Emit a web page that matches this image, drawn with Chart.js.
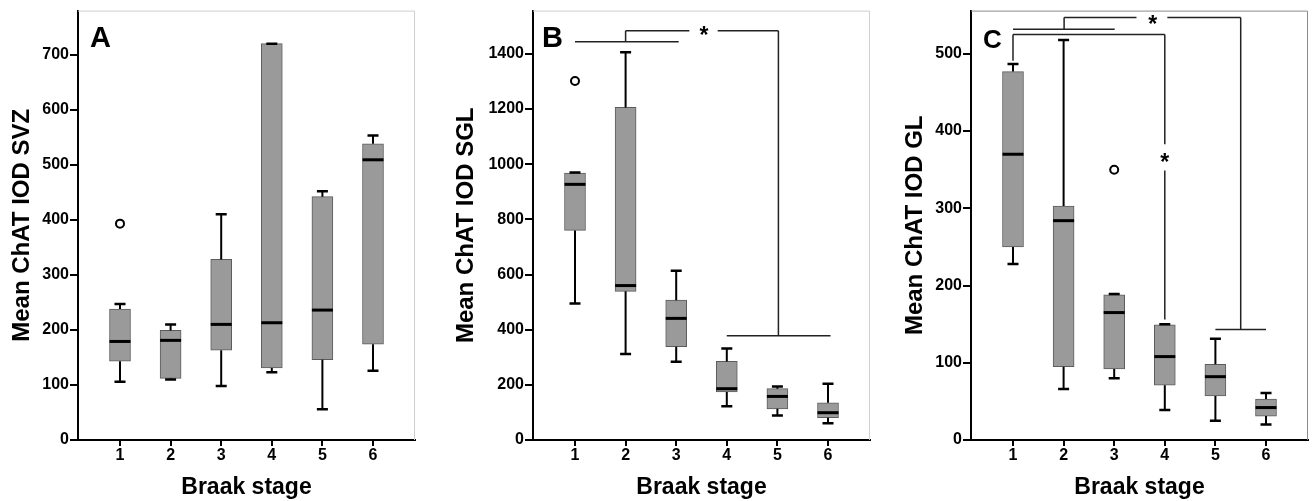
<!DOCTYPE html>
<html>
<head>
<meta charset="utf-8">
<script src="https://cdn.jsdelivr.net/npm/chart.js@4.4.1/dist/chart.umd.min.js"></script>
<style>
  html, body { margin: 0; padding: 0; background: #fff; }
  body { width: 1314px; height: 501px; position: relative; overflow: hidden; }
  canvas { position: absolute; top: 0; }
</style>
</head>
<body>
<canvas id="chartA" width="440" height="501" style="left:0px"></canvas>
<canvas id="chartB" width="436" height="501" style="left:440px"></canvas>
<canvas id="chartC" width="440" height="501" style="left:874px"></canvas>
<script>
const stages = [1, 2, 3, 4, 5, 6];

// A - SVZ
const svzMin = [106, 110, 98, 123, 56, 126];
const svzQ1 = [143, 112, 163, 131, 146, 174];
const svzMed = [179, 181, 210, 213, 236, 509];
const svzQ3 = [238, 199, 328, 720, 442, 538];
const svzMax = [247, 210, 410, 720, 452, 553];
const svzOutliers = [{ x: 1, y: 393 }];
const svzTicks = [0, 100, 200, 300, 400, 500, 600, 700];

// B - SGL
const sglMin = [495, 312, 284, 122, 89, 61];
const sglQ1 = [760, 539, 338, 174, 113, 81];
const sglMed = [927, 560, 441, 186, 158, 99];
const sglQ3 = [968, 1206, 507, 285, 186, 135];
const sglMax = [970, 1406, 614, 332, 194, 204];
const sglOutliers = [{ x: 1, y: 1302 }];
const sglTicks = [0, 200, 400, 600, 800, 1000, 1200, 1400];
// significance brackets [x1, y1, x2, y2] in data units
const sglBrackets = [
    [1, 1444, 3.05, 1444],
    [2, 1444, 2, 1484],
    [2, 1484, 3.26, 1484],
    [3.82, 1484, 5.02, 1484],
    [5.02, 1484, 5.02, 378],
    [4, 378, 6.05, 378]
];
const sglStars = [[3.55, 1484]];

// C - GL
const glMin = [228, 66, 80, 39, 25, 20];
const glQ1 = [250, 95, 92, 71, 57, 31];
const glMed = [370, 284, 165, 108, 82, 42];
const glQ3 = [477, 303, 188, 149, 98, 53];
const glMax = [487, 518, 189, 150, 131, 61];
const glOutliers = [{ x: 3, y: 350 }];
const glTicks = [0, 100, 200, 300, 400, 500];
const glBrackets = [
    [1, 532, 3.01, 532],
    [2.01, 532, 2.01, 547],
    [2.01, 547, 3.44, 547],
    [4.05, 547, 5.5, 547],
    [5.5, 547, 5.5, 143],
    [5, 143, 6, 143],
    [1, 525, 4, 525],
    [1, 525, 1, 491],
    [4, 525, 4, 383],
    [4, 349, 4, 156]
];
const glStars = [[3.76, 545], [4, 366]];

const FONT = "'Liberation Sans', Arial, sans-serif";
Chart.defaults.font.family = FONT;

function makePanel(id, p) {
    // parts of the box plot the bar controller can't draw
    const boxParts = {
        id: 'boxParts',
        beforeDatasetsDraw(chart) {
            const { ctx, chartArea: a } = chart;
            ctx.save();
            ctx.strokeStyle = p.frameColor;
            ctx.lineWidth = 1;
            ctx.beginPath();
            ctx.moveTo(a.left, a.top + 0.5);
            ctx.lineTo(a.right - 0.5, a.top + 0.5);
            ctx.lineTo(a.right - 0.5, a.bottom);
            ctx.stroke();
            ctx.restore();
        },
        afterDatasetsDraw(chart) {
            const { ctx, scales: { x, y }, chartArea: a } = chart;
            ctx.save();
            ctx.strokeStyle = '#000';
            stages.forEach((s, i) => {
                const cx = x.getPixelForValue(s);
                // whiskers
                ctx.lineWidth = 2;
                ctx.beginPath();
                ctx.moveTo(cx, y.getPixelForValue(p.q3[i]));
                ctx.lineTo(cx, y.getPixelForValue(p.max[i]));
                ctx.moveTo(cx, y.getPixelForValue(p.q1[i]));
                ctx.lineTo(cx, y.getPixelForValue(p.min[i]));
                ctx.stroke();
                // caps
                ctx.lineWidth = 2.5;
                ctx.beginPath();
                ctx.moveTo(cx - 5.5, y.getPixelForValue(p.max[i]));
                ctx.lineTo(cx + 5.5, y.getPixelForValue(p.max[i]));
                ctx.moveTo(cx - 5.5, y.getPixelForValue(p.min[i]));
                ctx.lineTo(cx + 5.5, y.getPixelForValue(p.min[i]));
                ctx.stroke();
                // median
                ctx.lineWidth = 3;
                ctx.beginPath();
                ctx.moveTo(cx - 10.5, y.getPixelForValue(p.med[i]));
                ctx.lineTo(cx + 10.5, y.getPixelForValue(p.med[i]));
                ctx.stroke();
            });
            // brackets
            ctx.strokeStyle = '#222';
            ctx.lineWidth = 1.5;
            ctx.beginPath();
            (p.brackets || []).forEach(b => {
                ctx.moveTo(x.getPixelForValue(b[0]), y.getPixelForValue(b[1]));
                ctx.lineTo(x.getPixelForValue(b[2]), y.getPixelForValue(b[3]));
            });
            ctx.stroke();
            ctx.fillStyle = '#000';
            ctx.font = 'bold 23px ' + FONT;
            ctx.textAlign = 'center';
            ctx.textBaseline = 'alphabetic';
            (p.stars || []).forEach(st => {
                const m = ctx.measureText('*');
                const off = (m.actualBoundingBoxAscent - m.actualBoundingBoxDescent) / 2;
                ctx.fillText('*', x.getPixelForValue(st[0]), y.getPixelForValue(st[1]) + off);
            });
            // panel letter
            ctx.textAlign = 'left';
            ctx.font = 'bold ' + p.letterSize + 'px ' + FONT;
            ctx.fillText(p.letter, a.left + p.letterDx, a.top + p.letterDy);
            ctx.restore();
        }
    };

    return new Chart(document.getElementById(id), {
        type: 'bar',
        data: {
            datasets: [{
                type: 'bar',
                data: stages.map((s, i) => ({ x: s, y: [p.q1[i], p.q3[i]] })),
                backgroundColor: '#9a9a9a',
                borderColor: '#5c5c5c',
                borderWidth: 1,
                borderSkipped: false,
                barThickness: 21
            }, {
                type: 'scatter',
                data: p.outliers,
                pointStyle: 'circle',
                pointRadius: 4,
                pointBorderWidth: 2,
                pointBorderColor: '#000',
                pointBackgroundColor: '#fff'
            }]
        },
        options: {
            responsive: false,
            animation: false,
            events: [],
            layout: { padding: { left: 0, right: p.padRight, top: 7, bottom: 0 } },
            plugins: { legend: { display: false }, tooltip: { enabled: false } },
            scales: {
                x: {
                    type: 'linear',
                    offset: false,
                    min: 0.17,
                    max: 6.83,
                    afterBuildTicks: s => { s.ticks = stages.map(v => ({ value: v })); },
                    afterFit: s => { s.height = 61; },
                    ticks: {
                        color: '#000',
                        font: { size: 16, weight: 'bold' },
                        padding: 0,
                        autoSkip: false,
                        maxRotation: 0,
                        callback: v => String(v)
                    },
                    grid: { offset: false, drawOnChartArea: false, drawTicks: true, tickLength: 6, color: '#000', lineWidth: 2 },
                    border: { display: true, color: '#000', width: 2 },
                    title: {
                        display: true,
                        text: 'Braak stage',
                        color: '#000',
                        font: { size: 23, weight: 'bold', lineHeight: 1.2 },
                        padding: { top: 0, bottom: 0 }
                    }
                },
                y: {
                    type: 'linear',
                    min: 0,
                    max: p.yMax,
                    afterBuildTicks: s => { s.ticks = p.ticks.map(v => ({ value: v })); },
                    afterFit: s => { s.width = p.yWidth; },
                    ticks: {
                        color: '#000',
                        font: { size: 16, weight: 'bold' },
                        padding: 1,
                        callback: v => String(v)
                    },
                    grid: { drawOnChartArea: false, drawTicks: true, tickLength: 8, color: '#000', lineWidth: 2 },
                    border: { display: true, color: '#000', width: 2 },
                    title: {
                        display: true,
                        text: p.yTitle,
                        color: '#000',
                        font: { size: 24, weight: 'bold', lineHeight: 1.2 },
                        padding: { top: p.titlePad, bottom: 0 }
                    }
                }
            }
        },
        plugins: [boxParts]
    });
}

makePanel('chartA', {
    min: svzMin, q1: svzQ1, med: svzMed, q3: svzQ3, max: svzMax, outliers: svzOutliers,
    ticks: svzTicks, yMax: 780, yTitle: 'Mean ChAT IOD SVZ',
    yWidth: 78, titlePad: 8, padRight: 25, frameColor: '#cfcfcf',
    letter: 'A', letterSize: 29, letterDx: 12, letterDy: 36
});
makePanel('chartB', {
    min: sglMin, q1: sglQ1, med: sglMed, q3: sglQ3, max: sglMax, outliers: sglOutliers,
    brackets: sglBrackets, stars: sglStars,
    ticks: sglTicks, yMax: 1557, yTitle: 'Mean ChAT IOD SGL',
    yWidth: 93, titlePad: 11.5, padRight: 3, frameColor: '#cfcfcf',
    letter: 'B', letterSize: 29, letterDx: 9, letterDy: 36
});
makePanel('chartC', {
    min: glMin, q1: glQ1, med: glMed, q3: glQ3, max: glMax, outliers: glOutliers,
    brackets: glBrackets, stars: glStars,
    ticks: glTicks, yMax: 556, yTitle: 'Mean ChAT IOD GL',
    yWidth: 97, titlePad: 26.5, padRight: 5, frameColor: '#8a8a8a',
    letter: 'C', letterSize: 26, letterDx: 12, letterDy: 37
});
</script>
</body>
</html>
